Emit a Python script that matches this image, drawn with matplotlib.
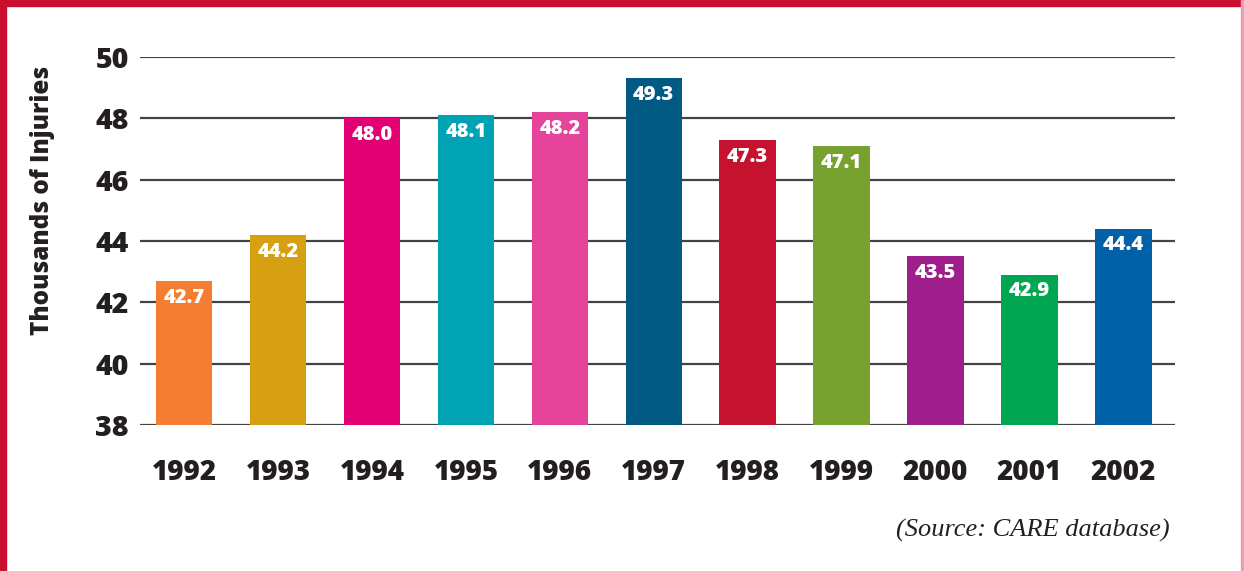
import matplotlib.pyplot as plt
from matplotlib.patches import Rectangle

plt.rcParams['font.family'] = ['Open Sans', 'DejaVu Sans']

years = ['1992', '1993', '1994', '1995', '1996', '1997', '1998', '1999', '2000', '2001', '2002']
injuries = [42.7, 44.2, 48.0, 48.1, 48.2, 49.3, 47.3, 47.1, 43.5, 42.9, 44.4]
bar_colors = ['#F47D32', '#D6A012', '#E20074', '#00A3B4', '#E5449A', '#005A84',
              '#C4122F', '#77A22F', '#9E1F8C', '#00A651', '#0060A8']
yticks = [38, 40, 42, 44, 46, 48, 50]

border = '#C8102E'
text_color = '#231F20'

fig = plt.figure(figsize=(12.44, 5.71), dpi=100)
ax = fig.add_axes([140 / 1244, 1 - 425 / 571, (1175 - 140) / 1244, (425 - 57) / 571])

x = range(len(years))
ax.bar(x, [v - 38 for v in injuries], bottom=38, width=0.6, color=bar_colors, zorder=3)

for i, v in enumerate(injuries):
    ax.text(i, v - 0.22, f'{v:.1f}', ha='center', va='top', color='white',
            fontsize=14.5, fontweight='heavy', zorder=4)

ax.set_xlim(-0.47, 10.55)
ax.set_ylim(38, 50)
ax.set_yticks(yticks)
ax.set_yticklabels([str(t) for t in yticks], fontsize=20.5, fontweight='heavy', color=text_color)
ax.set_xticks(list(x))
ax.set_xticklabels(years, fontsize=20, fontweight='heavy', color=text_color)
ax.tick_params(axis='both', length=0)
ax.tick_params(axis='y', pad=8)
ax.tick_params(axis='x', pad=24)
ax.grid(axis='y', color='#444444', linewidth=1.6, zorder=1)
for s in ax.spines.values():
    s.set_visible(False)

fig.text(43 / 1244, 1 - 200 / 571, 'Thousands of Injuries', rotation=90, ha='center', va='center',
         fontsize=17.5, fontweight='heavy', color=text_color)
fig.text(1170 / 1244, 1 - 530 / 571, '(Source: CARE database)', ha='right', va='center',
         fontsize=19, style='italic', family='Liberation Serif', color=text_color)

# red frame
fig.patches.append(Rectangle((0, 1 - 6 / 571), 1, 6 / 571, transform=fig.transFigure,
                             color=border, zorder=0))
fig.patches.append(Rectangle((0, 0), 6 / 1244, 1, transform=fig.transFigure,
                             color=border, zorder=0))
fig.patches.append(Rectangle((1 - 3 / 1244, 0), 2 / 1244, 1, transform=fig.transFigure,
                             color='#E8A0AC', zorder=0))

fig.savefig('out.png', dpi=100)
